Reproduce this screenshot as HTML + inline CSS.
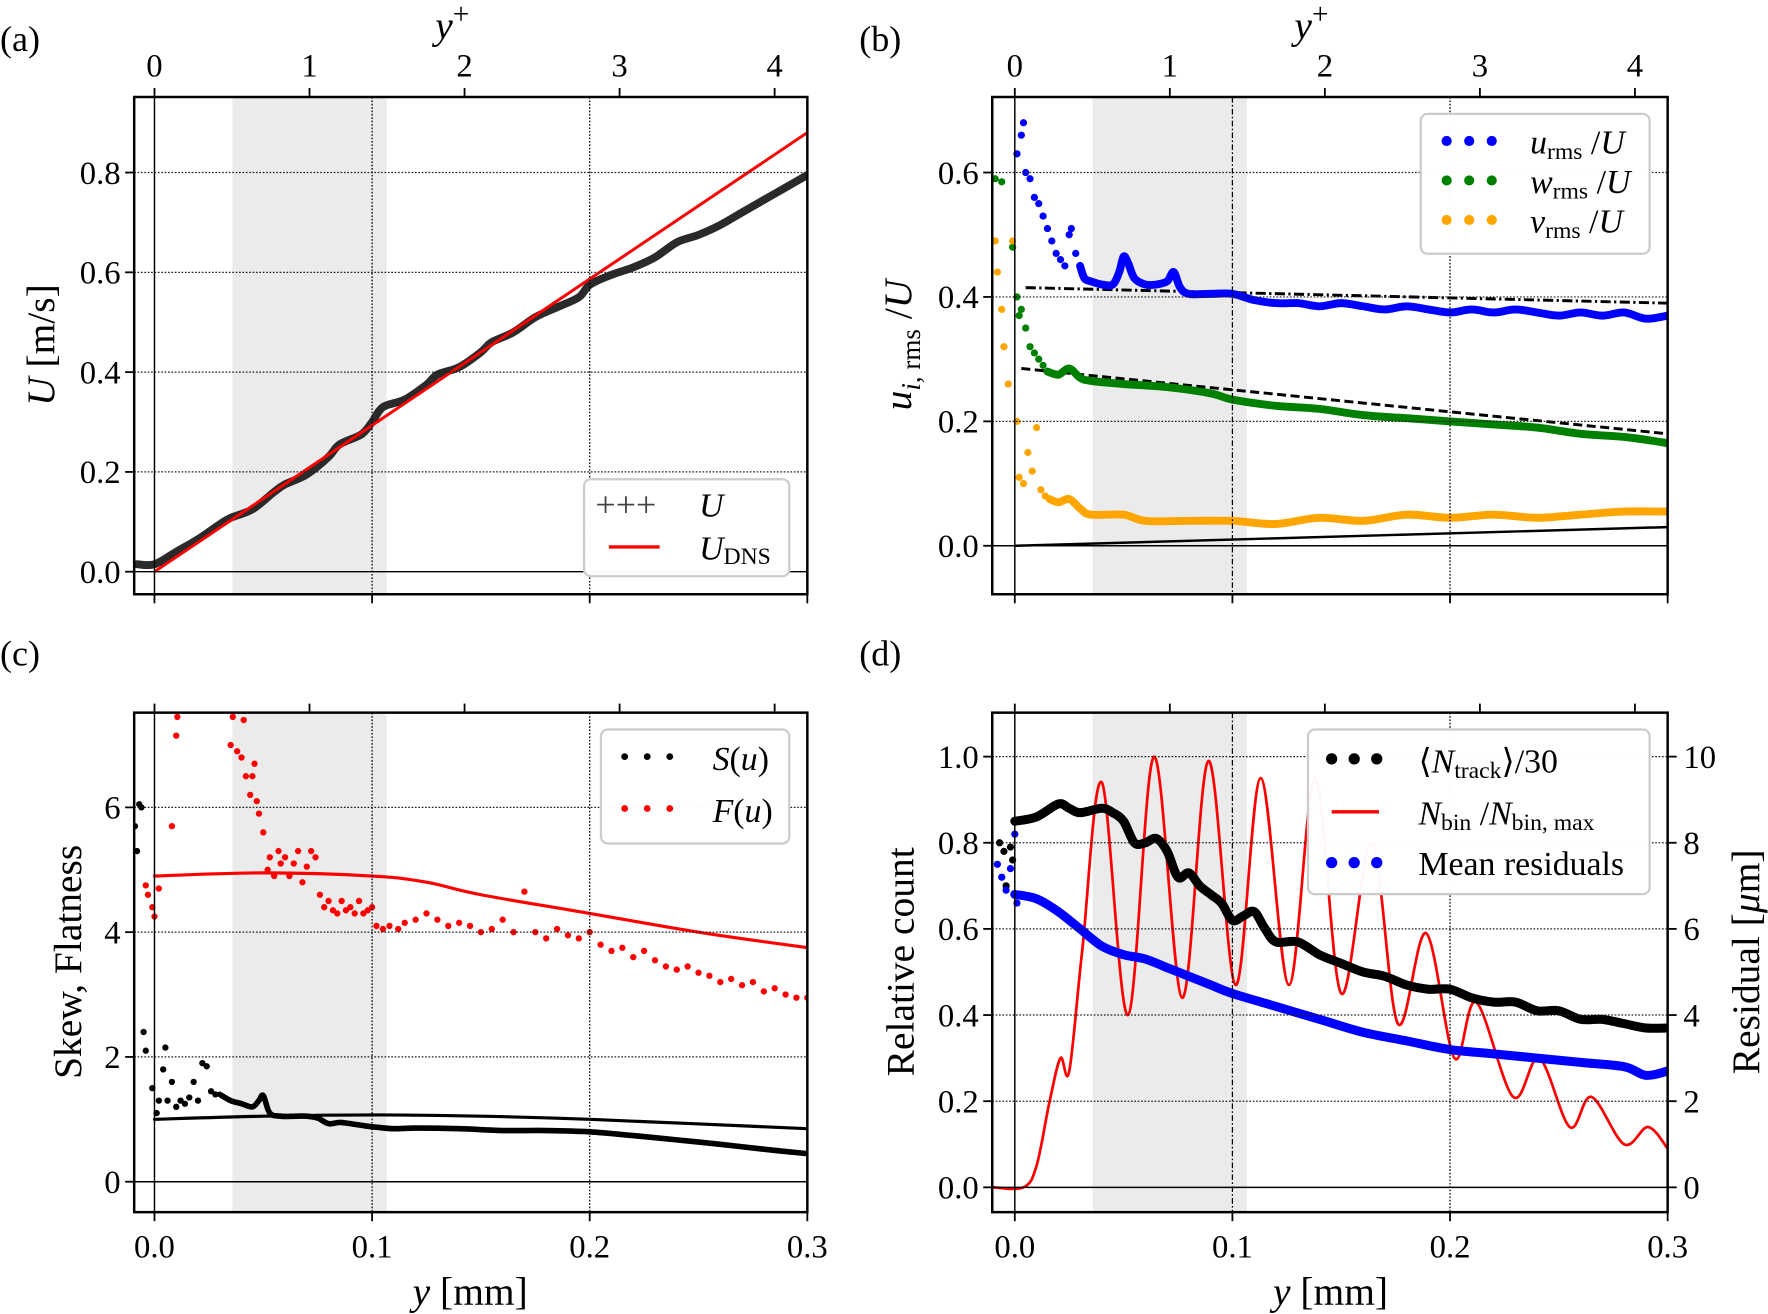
<!DOCTYPE html>
<html><head><meta charset="utf-8">
<style>
html,body{margin:0;padding:0;background:#fff;}
svg{display:block;font-family:"Liberation Serif","DejaVu Serif",serif;}
</style></head>
<body>
<svg id="fig" width="1768" height="1314" viewBox="0 0 1568 1165.3" xmlns="http://www.w3.org/2000/svg">
<defs>
<clipPath id="cpa"><rect x="119" y="86" width="597" height="441"/></clipPath>
<clipPath id="cpb"><rect x="880" y="86" width="599" height="441"/></clipPath>
<clipPath id="cpc"><rect x="119" y="632" width="597" height="443"/></clipPath>
<clipPath id="cpd"><rect x="880" y="632" width="599" height="443"/></clipPath>
</defs>
<g font-size="32">
<text x="0" y="45">(a)</text>
<text x="762" y="45">(b)</text>
<text x="0" y="590">(c)</text>
<text x="762" y="590">(d)</text>
</g>
<g font-size="35">
<text x="386" y="34" font-style="italic">y<tspan dy="-13" font-size="26" font-style="normal">+</tspan></text>
<text x="1148" y="34" font-style="italic">y<tspan dy="-13" font-size="26" font-style="normal">+</tspan></text>
<text transform="translate(48,306) rotate(-90)" text-anchor="middle"><tspan font-style="italic">U</tspan> [m/s]</text>
<text transform="translate(808,306) rotate(-90)" text-anchor="middle"><tspan font-style="italic">u</tspan><tspan font-size="24" dy="8"><tspan font-style="italic">i</tspan>, rms</tspan><tspan dy="-8"> /</tspan><tspan font-style="italic">U</tspan></text>
<text transform="translate(72,853) rotate(-90)" text-anchor="middle">Skew, Flatness</text>
<text transform="translate(810,853) rotate(-90)" text-anchor="middle">Relative count</text>
<text transform="translate(1560,853) rotate(-90)" text-anchor="middle">Residual [<tspan font-style="italic">μ</tspan>m]</text>
<text x="417" y="1157" text-anchor="middle"><tspan font-style="italic">y</tspan> [mm]</text>
<text x="1180" y="1157" text-anchor="middle"><tspan font-style="italic">y</tspan> [mm]</text>
</g>
<g id="layer"></g>
</svg>
<script>
// ---------- data ----------
const uY=[-0.008,0,0.01,0.02,0.03,0.035,0.045,0.055,0.06,0.07,0.08,0.085,0.095,0.1,0.105,0.115,0.125,0.13,0.14,0.15,0.155,0.165,0.175,0.185,0.195,0.2,0.21,0.22,0.23,0.24,0.25,0.26,0.27,0.28,0.29,0.3];
const uVal=[0.015,0.015,0.04,0.065,0.095,0.108,0.125,0.16,0.175,0.195,0.23,0.255,0.275,0.3,0.33,0.345,0.375,0.395,0.41,0.44,0.46,0.48,0.51,0.53,0.55,0.575,0.595,0.61,0.63,0.66,0.675,0.695,0.72,0.745,0.77,0.795];
const uDnsY=[0,0.3];
const uDnsVal=[0,0.88];

const urmsScatY=[0.001,0.003,0.004,0.005,0.007,0.009,0.011,0.013,0.015,0.017,0.019,0.021,0.023,0.025,0.026,0.028];
const urmsScatV=[0.63,0.66,0.68,0.6,0.59,0.56,0.55,0.53,0.51,0.49,0.47,0.46,0.45,0.5,0.51,0.47];
const urmsY=[0.03,0.032,0.035,0.04,0.045,0.048,0.05,0.052,0.055,0.06,0.065,0.07,0.073,0.076,0.08,0.09,0.1,0.11,0.12,0.13,0.14,0.15,0.16,0.17,0.18,0.19,0.2,0.21,0.22,0.23,0.24,0.25,0.26,0.27,0.28,0.29,0.3];
const urmsV=[0.45,0.43,0.425,0.42,0.42,0.44,0.465,0.455,0.43,0.42,0.42,0.425,0.44,0.415,0.405,0.405,0.405,0.395,0.39,0.39,0.385,0.39,0.385,0.38,0.385,0.38,0.375,0.38,0.375,0.38,0.375,0.37,0.375,0.37,0.375,0.365,0.37];
const wrmsScatY=[-0.009,-0.006,-0.001,0.001,0.002,0.003,0.005,0.007,0.009,0.011,0.013];
const wrmsScatV=[0.59,0.585,0.48,0.4,0.37,0.38,0.35,0.32,0.31,0.3,0.29];
const wrmsY=[0.015,0.02,0.025,0.03,0.035,0.05,0.07,0.09,0.1,0.12,0.14,0.16,0.18,0.2,0.22,0.24,0.26,0.28,0.3];
const wrmsV=[0.28,0.275,0.285,0.27,0.265,0.26,0.255,0.245,0.235,0.225,0.22,0.21,0.205,0.2,0.195,0.19,0.18,0.175,0.165];
const vrmsScatY=[-0.009,-0.008,-0.006,-0.005,-0.003,-0.001,0.001,0.002,0.004,0.006,0.008,0.01,0.012,0.014];
const vrmsScatV=[0.49,0.44,0.38,0.32,0.26,0.49,0.2,0.11,0.1,0.15,0.12,0.19,0.09,0.08];
const vrmsY=[0.016,0.02,0.025,0.03,0.035,0.05,0.06,0.08,0.1,0.12,0.14,0.16,0.18,0.2,0.22,0.24,0.26,0.28,0.3];
const vrmsV=[0.075,0.07,0.075,0.06,0.05,0.05,0.04,0.04,0.04,0.035,0.045,0.04,0.05,0.045,0.05,0.045,0.05,0.055,0.055];
const fitUY=[0.005,0.3], fitUV=[0.415,0.39];
const fitWY=[0.003,0.3], fitWV=[0.285,0.18];
const fitVY=[0,0.3], fitVV=[0,0.03];

const skewScatY=[-0.009,-0.008,-0.007,-0.006,-0.005,-0.004,-0.001,0.001,0.002,0.004,0.005,0.006,0.008,0.01,0.012,0.014,0.016,0.018,0.02,0.022,0.024,0.026,0.028];
const skewScatV=[5.7,5.3,6.05,6.0,2.4,2.1,1.5,1.1,1.3,1.8,2.15,1.3,1.6,1.2,1.3,1.25,1.35,1.6,1.3,1.9,1.85,1.45,1.4];
const skewY=[0.03,0.035,0.04,0.045,0.048,0.05,0.053,0.058,0.065,0.07,0.075,0.08,0.085,0.09,0.1,0.11,0.12,0.14,0.16,0.18,0.2,0.22,0.24,0.26,0.28,0.3];
const skewV=[1.4,1.3,1.25,1.2,1.3,1.38,1.1,1.05,1.05,1.05,1.02,0.93,0.95,0.93,0.88,0.85,0.86,0.85,0.82,0.82,0.8,0.74,0.67,0.6,0.52,0.45];
const flatY=[-0.004,-0.003,-0.001,0.0,0.002,0.008,0.01,0.0105,0.035,0.036,0.038,0.04,0.041,0.042,0.044,0.045,0.046,0.047,0.048,0.05,0.052,0.053,0.055,0.057,0.058,0.06,0.062,0.064,0.066,0.068,0.07,0.072,0.074,0.076,0.078,0.08,0.082,0.084,0.086,0.088,0.09,0.092,0.094,0.096,0.098,0.1,0.102,0.105,0.108,0.112,0.115,0.12,0.125,0.13,0.135,0.14,0.145,0.15,0.155,0.16,0.165,0.17,0.175,0.18,0.185,0.19,0.195,0.2,0.205,0.21,0.215,0.22,0.225,0.23,0.235,0.24,0.245,0.25,0.255,0.26,0.265,0.27,0.275,0.28,0.285,0.29,0.295,0.3];
const flatV=[4.75,4.6,4.4,4.25,4.7,5.7,7.15,7.45,7.0,7.45,6.9,6.8,7.4,6.5,6.2,6.5,6.7,6.1,5.9,5.6,5.0,5.2,4.9,5.3,5.1,5.2,4.9,5.1,5.3,4.8,5.05,5.3,5.2,4.6,4.4,4.5,4.35,4.3,4.5,4.35,4.4,4.3,4.5,4.3,4.35,4.4,4.1,4.05,4.1,4.05,4.15,4.2,4.3,4.2,4.1,4.15,4.1,4.0,4.05,4.2,4.0,4.65,4.0,3.9,4.05,3.95,3.9,4.0,3.8,3.7,3.75,3.6,3.7,3.55,3.45,3.4,3.45,3.35,3.3,3.2,3.25,3.15,3.2,3.05,3.1,3.0,2.95,2.95];
const flatModelY=[0,0.05,0.1,0.125,0.15,0.2,0.25,0.3];
const flatModelV=[4.9,4.95,4.9,4.8,4.6,4.3,4.0,3.75];
const skewModelY=[0,0.05,0.1,0.15,0.2,0.3];
const skewModelV=[1.0,1.05,1.07,1.05,1.0,0.85];

const ntrScatY=[-0.007,-0.005,-0.004,-0.002,-0.001];
const ntrScatV=[0.8,0.78,0.7,0.79,0.76];
const ntrY=[0,0.01,0.02,0.025,0.03,0.04,0.045,0.05,0.055,0.06,0.065,0.07,0.075,0.08,0.085,0.09,0.095,0.1,0.105,0.11,0.115,0.12,0.13,0.14,0.15,0.16,0.17,0.18,0.19,0.2,0.21,0.22,0.23,0.24,0.25,0.26,0.27,0.28,0.29,0.3];
const ntrV=[0.85,0.86,0.89,0.88,0.87,0.88,0.87,0.85,0.8,0.8,0.81,0.78,0.72,0.73,0.7,0.68,0.66,0.62,0.63,0.64,0.6,0.57,0.57,0.54,0.52,0.5,0.49,0.47,0.46,0.46,0.44,0.43,0.43,0.41,0.41,0.39,0.39,0.38,0.37,0.37];
const resScatY=[-0.008,-0.006,-0.004,-0.002,0.0,0.001];
const resScatV=[7.5,7.2,6.9,7.4,8.2,6.6];
const resY=[0,0.01,0.02,0.03,0.04,0.05,0.06,0.07,0.08,0.09,0.1,0.12,0.14,0.16,0.18,0.2,0.22,0.24,0.26,0.28,0.29,0.3];
const resV=[6.8,6.7,6.4,6.0,5.6,5.4,5.3,5.1,4.9,4.7,4.5,4.2,3.9,3.6,3.4,3.2,3.1,3.0,2.9,2.8,2.6,2.7];
const nbinY=[-0.01,0.004,0.01,0.016,0.021,0.025,0.031,0.04,0.052,0.064,0.077,0.089,0.1015,0.113,0.126,0.138,0.15,0.164,0.176,0.189,0.202,0.212,0.229,0.241,0.255,0.265,0.28,0.291,0.3];
const nbinV=[0,0,0.05,0.2,0.3,0.27,0.55,0.94,0.4,1.0,0.44,0.99,0.47,0.95,0.47,0.95,0.45,0.8,0.38,0.59,0.3,0.43,0.21,0.3,0.14,0.21,0.1,0.14,0.09];

const tickMM=[0,0.1,0.2,0.3], tickMMLabels=["0.0","0.1","0.2","0.3"];
const tickYp=[0,1,2,3,4];
const ticksA=[0,0.2,0.4,0.6,0.8], ticksALabels=["0.0","0.2","0.4","0.6","0.8"];
const ticksB=[0,0.2,0.4,0.6], ticksBLabels=["0.0","0.2","0.4","0.6"];
const ticksC=[0,2,4,6], ticksCLabels=["0","2","4","6"];
const ticksD=[0,0.2,0.4,0.6,0.8,1.0], ticksDLabels=["0.0","0.2","0.4","0.6","0.8","1.0"];
const ticksDR=[0,2,4,6,8,10], ticksDRLabels=["0","2","4","6","8","10"];

// ---------- layout ----------
const NS="http://www.w3.org/2000/svg";
const layer=document.getElementById('layer');
function mk(tag,attrs,parent){const e=document.createElementNS(NS,tag);for(const k in attrs)e.setAttribute(k,attrs[k]);(parent||layer).appendChild(e);return e;}
const P={
 a:{L:119,R:716,T:86,B:527,x0:137,y0:507,ys:442.5,clip:'cpa'},
 b:{L:880,R:1479,T:86,B:527,x0:900,y0:484,ys:551.7,clip:'cpb'},
 c:{L:119,R:716,T:632,B:1075,x0:137,y0:1048,ys:55.33,clip:'cpc'},
 d:{L:880,R:1479,T:632,B:1075,x0:900,y0:1053,ys:382,clip:'cpd'}
};
const MMS=1930, YPS=137.5;
function X(p,v){return P[p].x0+v*MMS;}
function Y(p,v){return P[p].y0-v*P[p].ys;}
function YR(v){return P.d.y0-v*38.2;}

function smooth(pts){
 let d="M"+pts[0][0]+","+pts[0][1];
 for(let i=0;i<pts.length-1;i++){
  const p0=pts[Math.max(0,i-1)],p1=pts[i],p2=pts[i+1],p3=pts[Math.min(pts.length-1,i+2)];
  const c1x=p1[0]+(p2[0]-p0[0])/6,c1y=p1[1]+(p2[1]-p0[1])/6,c2x=p2[0]-(p3[0]-p1[0])/6,c2y=p2[1]-(p3[1]-p1[1])/6;
  d+=" C"+c1x.toFixed(1)+","+c1y.toFixed(1)+" "+c2x.toFixed(1)+","+c2y.toFixed(1)+" "+p2[0].toFixed(1)+","+p2[1].toFixed(1);
 }
 return d;
}

for(const k of ['a','b','c','d']){
 const p=P[k];
 const g=mk('g',{});
 
 
 p.g=g;
 const sh=mk('rect',{x:X(k,0.0358),y:p.T,width:X(k,0.1067)-X(k,0.0358),height:p.B-p.T,fill:'#ebebeb'},g);
 
 
 p.data=mk('g',{'clip-path':'url(#'+p.clip+')'},g);
}
function hgrid(k,vals,yf){
 const p=P[k];
 for(const v of vals){
  const y=yf(v);
  const ln=mk('line',{x1:p.L,x2:p.R,y1:y,y2:y,stroke:v===0?'#000':'#222','stroke-width':v===0?1.3:1.1,'stroke-dasharray':v===0?'':'1.5 1.5'},p.g);
  
  
 }
}
hgrid('a',ticksA,v=>Y('a',v));hgrid('b',ticksB,v=>Y('b',v));hgrid('c',ticksC,v=>Y('c',v));hgrid('d',ticksD,v=>Y('d',v));
for(const k of ['a','b','c','d']){
 const p=P[k];
 for(const v of tickMM){
  if(v===0.3)continue;
  const x=X(k,v);
  const ln=mk('line',{x1:x,x2:x,y1:p.T,y2:p.B,stroke:'#000','stroke-width':v===0?1.3:1.1,'stroke-dasharray':v===0?'':(v===0.1&&(k==='b'||k==='d')?'5 2 1.5 2':'1.5 1.5')},p.g);
  
  
 }
}

// ---------- series ----------
function trace(k,xs,vs,yf,color,w,name,dash){
 const pts=xs.map((x,i)=>[X(k,x),yf(vs[i])]);
 const e=mk('path',{d:smooth(pts),fill:'none',stroke:color,'stroke-width':w,'stroke-linecap':'round','stroke-linejoin':'round'},P[k].data);
 if(dash)e.setAttribute('stroke-dasharray',dash);
 
 
 return e;
}
function lin(k,xs,vs,yf,color,w,name,dash){
 const e=mk('line',{x1:X(k,xs[0]),y1:yf(vs[0]),x2:X(k,xs[1]),y2:yf(vs[1]),stroke:color,'stroke-width':w},P[k].data);
 if(dash)e.setAttribute('stroke-dasharray',dash);
 
 
}
function dots(k,xs,vs,yf,color,r,name){
 for(let i=0;i<xs.length;i++){
  const c=mk('circle',{cx:X(k,xs[i]),cy:yf(vs[i]),r:r,fill:color},P[k].data);
  
  
 }
}
trace('a',uY,uVal,v=>Y('a',v),'#2a2a2a',7,'u-measured');
lin('a',uDnsY,uDnsVal,v=>Y('a',v),'#f00',2.6,'u-dns-line');
lin('b',fitUY,fitUV,v=>Y('b',v),'#000',2.6,'urms-model-line','9 3 2 3');
lin('b',fitWY,fitWV,v=>Y('b',v),'#000',2.6,'wrms-model-line','8 4');
lin('b',fitVY,fitVV,v=>Y('b',v),'#000',2.2,'vrms-model-line');
dots('b',urmsScatY,urmsScatV,v=>Y('b',v),'#0000ff',3.2,'urms-point');
trace('b',urmsY,urmsV,v=>Y('b',v),'#0000ff',7,'urms-trace');
dots('b',wrmsScatY,wrmsScatV,v=>Y('b',v),'#008000',3.2,'wrms-point');
trace('b',wrmsY,wrmsV,v=>Y('b',v),'#008000',7,'wrms-trace');
dots('b',vrmsScatY,vrmsScatV,v=>Y('b',v),'#ffa500',3.2,'vrms-point');
trace('b',vrmsY,vrmsV,v=>Y('b',v),'#ffa500',7,'vrms-trace');
trace('c',flatModelY,flatModelV,v=>Y('c',v),'#f00',2.8,'flatness-model-line');
trace('c',skewModelY,skewModelV,v=>Y('c',v),'#000',2.8,'skew-model-line');
dots('c',flatY,flatV,v=>Y('c',v),'#f00',2.8,'flatness-point');
dots('c',skewScatY,skewScatV,v=>Y('c',v),'#000',2.8,'skew-point');
trace('c',skewY,skewV,v=>Y('c',v),'#000',5,'skew-trace');
trace('d',nbinY,nbinV,v=>Y('d',v),'#f00',2.4,'nbin-curve');
dots('d',ntrScatY,ntrScatV,v=>Y('d',v),'#000',3.2,'ntrack-point');
trace('d',ntrY,ntrV,v=>Y('d',v),'#000',8,'ntrack-trace');
dots('d',resScatY,resScatV,YR,'#0000ff',3.2,'residual-point');
trace('d',resY,resV,YR,'#0000ff',8,'residual-trace');

for(const k of ['a','b','c','d']){
 const p=P[k];
 const fr=mk('rect',{x:p.L,y:p.T,width:p.R-p.L,height:p.B-p.T,fill:'none',stroke:'#000','stroke-width':2.2});
 
 
 tickMM.forEach((v,i)=>{
  const x=X(k,v);
  const t=mk('line',{x1:x,x2:x,y1:p.B,y2:p.B+8,stroke:'#000','stroke-width':1.6});
  
  
  if(k==='c'||k==='d'){
   const tl=mk('text',{x:x,y:p.B+40,'text-anchor':'middle','font-size':29});
   tl.textContent=tickMMLabels[i];
   
   
  }
 });
 tickYp.forEach(v=>{
  const x=p.x0+v*YPS;
  const t=mk('line',{x1:x,x2:x,y1:p.T,y2:p.T-8,stroke:'#000','stroke-width':1.6});
  
  
  if(k==='a'||k==='b'){
   const tl=mk('text',{x:x,y:p.T-18,'text-anchor':'middle','font-size':29});
   tl.textContent=String(v);
   
   
  }
 });
}
function yticks(k,vals,labels,yf,right){
 const p=P[k];
 vals.forEach((v,i)=>{
  const y=yf(v);
  const x=right?p.R:p.L;
  const t=mk('line',{x1:x,x2:right?x+8:x-8,y1:y,y2:y,stroke:'#000','stroke-width':1.6});
  
  
  const tl=mk('text',{x:right?x+14:x-12,y:y+10,'text-anchor':right?'start':'end','font-size':29});
  tl.textContent=labels[i];
  
  
 });
}
yticks('a',ticksA,ticksALabels,v=>Y('a',v));
yticks('b',ticksB,ticksBLabels,v=>Y('b',v));
yticks('c',ticksC,ticksCLabels,v=>Y('c',v));
yticks('d',ticksD,ticksDLabels,v=>Y('d',v));
yticks('d',ticksDR,ticksDRLabels,YR,true);

// ---------- legends ----------
function legendBox(x,y,w,h,name){
 const r=mk('rect',{x:x,y:y,width:w,height:h,rx:6,fill:'#fff','fill-opacity':0.97,stroke:'#ccc','stroke-width':2});
 
 
}
function legText(x,y,html,name){
 const t=mk('text',{x:x,y:y,'font-size':30});
 t.innerHTML=html;
 
 
}
function legDots(x,y,color,r,name){
 for(let i=0;i<3;i++){
  const c=mk('circle',{cx:x+i*20,cy:y,r:r,fill:color});
  
  
 }
}
legendBox(518,425,182,86,'legend-a');
legText(528,458,'<tspan fill="#444" font-size="32">+++</tspan>','legend-u-marker');
legText(620,458,'<tspan font-style="italic">U</tspan>','legend-u-label');
const la=mk('line',{x1:540,x2:585,y1:485,y2:485,stroke:'#f00','stroke-width':3});


legText(620,496,'<tspan font-style="italic">U</tspan><tspan font-size="21" dy="4">DNS</tspan>','legend-udns-label');
legendBox(1260,101,203,124,'legend-b');
legDots(1283,125,'#0000ff',4.5,'legend-urms-marker');
legText(1357,136,'<tspan font-style="italic">u</tspan><tspan font-size="21" dy="5">rms</tspan><tspan dy="-5"> /</tspan><tspan font-style="italic">U</tspan>','legend-urms-label');
legDots(1283,160,'#008000',4.5,'legend-wrms-marker');
legText(1357,171,'<tspan font-style="italic">w</tspan><tspan font-size="21" dy="5">rms</tspan><tspan dy="-5"> /</tspan><tspan font-style="italic">U</tspan>','legend-wrms-label');
legDots(1283,195,'#ffa500',4.5,'legend-vrms-marker');
legText(1357,206,'<tspan font-style="italic">v</tspan><tspan font-size="21" dy="5">rms</tspan><tspan dy="-5"> /</tspan><tspan font-style="italic">U</tspan>','legend-vrms-label');
legendBox(533,647,167,101,'legend-c');
legDots(554,671,'#000',3,'legend-skew-marker');
legText(632,683,'<tspan font-style="italic">S</tspan>(<tspan font-style="italic">u</tspan>)','legend-skew-label');
legDots(554,717,'#f00',3,'legend-flatness-marker');
legText(632,729,'<tspan font-style="italic">F</tspan>(<tspan font-style="italic">u</tspan>)','legend-flatness-label');
legendBox(1160,647,303,146,'legend-d');
legDots(1181,673,'#000',5,'legend-ntrack-marker');
legText(1258,685,'⟨<tspan font-style="italic">N</tspan><tspan font-size="21" dy="5">track</tspan><tspan dy="-5">⟩/30</tspan>','legend-ntrack-label');
const ld=mk('line',{x1:1181,x2:1223,y1:720,y2:720,stroke:'#f00','stroke-width':3});


legText(1258,731,'<tspan font-style="italic">N</tspan><tspan font-size="21" dy="5">bin</tspan><tspan dy="-5"> /</tspan><tspan font-style="italic">N</tspan><tspan font-size="21" dy="5">bin, max</tspan>','legend-nbin-label');
legDots(1181,765,'#0000ff',5,'legend-residual-marker');
legText(1258,776,'Mean residuals','legend-residual-label');
</script>
</body></html>
